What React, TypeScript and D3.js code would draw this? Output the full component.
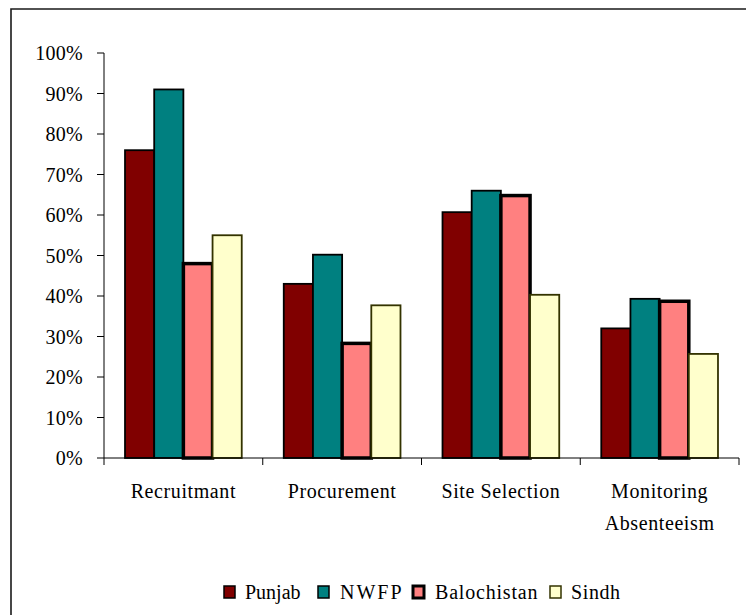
import React from "react";
import * as d3 from "d3";

const categories = ["Recruitmant", "Procurement", "Site Selection", "Monitoring Absenteeism"];
const categoryLines = [["Recruitmant"], ["Procurement"], ["Site Selection"], ["Monitoring", "Absenteeism"]];
const seriesNames = ["Punjab", "NWFP", "Balochistan", "Sindh"];
const punjab = [76, 43, 60.7, 32];
const nwfp = [91, 50.2, 66, 39.3];
const balochistan = [48, 28.3, 64.8, 38.7];
const sindh = [55, 37.7, 40.3, 25.7];
const seriesValues = [punjab, nwfp, balochistan, sindh];
const yTicks = [0, 10, 20, 30, 40, 50, 60, 70, 80, 90, 100];

const fills = ["#800000", "#008080", "#FF8080", "#FFFFCC"];
const strokes = ["#000000", "#000000", "#000000", "#333300"];
const strokeWidths = [1.8, 1.8, 3.5, 1.8];

const textStyle: React.CSSProperties = {
  fontFamily: "'Liberation Serif', Tinos, 'Times New Roman', Times, 'DejaVu Serif', serif",
};

export default function App() {
  const left = 104, right = 739, top = 53, bottom = 458;
  const x0 = d3.scaleBand<string>().domain(categories).range([left, right]).padding(0);
  const x1 = d3.scaleBand<string>().domain(seriesNames).range([0, x0.bandwidth()]).paddingInner(0).paddingOuter(0.72);
  const y = d3.scaleLinear().domain([0, 100]).range([bottom, top]);
  const boundaries = categories.map((c) => x0(c) as number).concat([right]);

  const legendItems = [
    { sq: 224, tx: 245, ls: 0 },
    { sq: 318, tx: 340, ls: 2 },
    { sq: 413, tx: 435, ls: 0.8 },
    { sq: 550, tx: 571, ls: 0.6 },
  ];

  return (
    <svg width={746} height={615} style={{ position: "absolute", left: 0, top: 0, background: "#fff" }}>
      <rect x={0} y={0} width={746} height={615} fill="#fff" />
      <path d="M11,616 V9 H747" fill="none" stroke="#1a1a1a" strokeWidth={1.6} />

      {/* bars */}
      {seriesNames.map((s, si) => (
        <g key={s}>
          {categories.map((c, ci) => {
            const bx = (x0(c) as number) + (x1(s) as number);
            const v = seriesValues[si][ci];
            return (
              <rect
                key={c}
                x={bx}
                y={y(v)}
                width={x1.bandwidth()}
                height={bottom - y(v)}
                fill={fills[si]}
                stroke={strokes[si]}
                strokeWidth={strokeWidths[si]}
              />
            );
          })}
        </g>
      ))}

      {/* y axis */}
      <line x1={left} x2={left} y1={top} y2={bottom} stroke="#000" strokeWidth={1} />
      {yTicks.map((t) => (
        <g key={t}>
          <line x1={left - 7} x2={left} y1={y(t)} y2={y(t)} stroke="#000" strokeWidth={1} />
          <text x={left - 21} y={y(t)} dy="0.35em" textAnchor="end" fontSize={20} letterSpacing={0.3} fill="#000" style={textStyle}>
            {t + "%"}
          </text>
        </g>
      ))}

      {/* x axis */}
      <line x1={left} x2={right} y1={bottom} y2={bottom} stroke="#000" strokeWidth={1} />
      {boundaries.map((b, i) => (
        <line key={i} x1={b} x2={b} y1={bottom} y2={bottom + 7} stroke="#000" strokeWidth={1} />
      ))}
      {categories.map((c, ci) => (
        <text key={c} textAnchor="middle" fontSize={20} letterSpacing={0.6} fill="#000" style={textStyle}>
          {categoryLines[ci].map((ln, li) => (
            <tspan key={li} x={(x0(c) as number) + x0.bandwidth() / 2} y={498 + li * 32}>
              {ln}
            </tspan>
          ))}
        </text>
      ))}

      {/* legend */}
      {seriesNames.map((s, si) => (
        <g key={s}>
          <rect
            x={legendItems[si].sq}
            y={586}
            width={11}
            height={12}
            fill={fills[si]}
            stroke={strokes[si]}
            strokeWidth={si === 2 ? 3 : 1.5}
          />
          <text x={legendItems[si].tx} y={599} fontSize={20} letterSpacing={legendItems[si].ls} fill="#000" style={textStyle}>
            {s}
          </text>
        </g>
      ))}
    </svg>
  );
}
